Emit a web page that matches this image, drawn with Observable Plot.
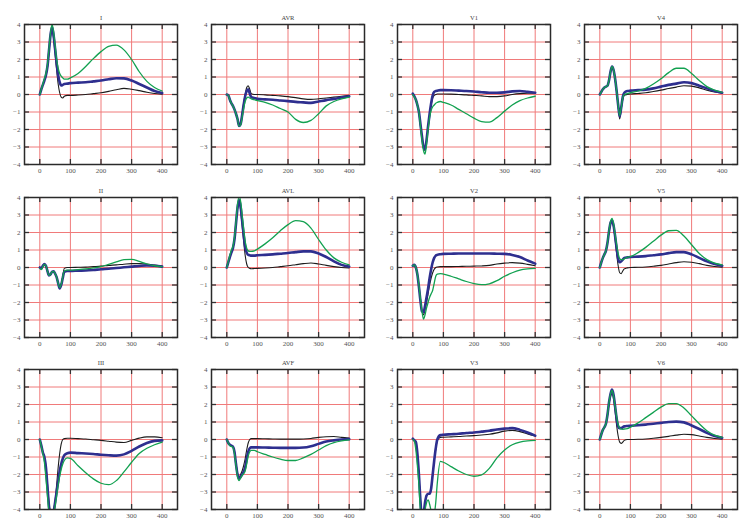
<!DOCTYPE html>
<html><head><meta charset="utf-8">
<script src="https://cdn.jsdelivr.net/npm/d3@7"></script>
<script src="https://cdn.jsdelivr.net/npm/@observablehq/plot@0.6"></script>
<style>
html,body{margin:0;padding:0;background:#fff;}
#chart{position:relative;width:747px;height:523px;overflow:hidden;background:#fff;}
#chart > svg{position:absolute;}
</style></head><body><div id="chart"></div>
<script>
// time axis (ms), shared by all series
const T = [0,5,10,15,20,25,30,35,40,45,50,55,60,65,70,75,80,90,100,125,150,175,200,225,250,275,300,325,350,375,400];
const xTicks = [0,100,200,300,400];
const yTicks = [-4,-3,-2,-1,0,1,2,3,4];
const leadNames = ["I","AVR","V1","V4","II","AVL","V2","V5","III","AVF","V3","V6"];

// Lead I
const I_black = [0,0.3,0.55,0.8,1.05,1.55,2.4,3.3,3.7,3.2,2.3,1.4,0.6,0.1,-0.15,-0.2,-0.1,-0.05,-0.05,-0.03,0,0.05,0.1,0.18,0.27,0.35,0.3,0.22,0.13,0.06,0.02];
const I_blue  = [0,0.3,0.55,0.8,1.1,1.6,2.5,3.4,3.85,3.4,2.6,1.8,1.1,0.7,0.52,0.55,0.6,0.62,0.65,0.68,0.7,0.75,0.8,0.87,0.93,0.92,0.8,0.6,0.4,0.2,0.08];
const I_green = [0,0.3,0.6,0.9,1.2,1.7,2.6,3.5,4.0,3.6,2.8,2.0,1.5,1.2,1.05,0.95,0.88,0.88,0.95,1.2,1.6,2.05,2.45,2.75,2.82,2.55,2.0,1.3,0.75,0.4,0.2];
// Lead AVR
const AVR_black = [0,-0.05,-0.3,-0.5,-0.65,-0.85,-1.1,-1.4,-1.75,-1.65,-1.1,-0.5,0.0,0.4,0.5,0.3,0.05,0.0,0.0,-0.02,-0.05,-0.08,-0.12,-0.18,-0.25,-0.28,-0.25,-0.2,-0.15,-0.1,-0.05];
const AVR_blue  = [0,-0.05,-0.3,-0.5,-0.65,-0.85,-1.1,-1.4,-1.8,-1.7,-1.2,-0.6,-0.1,0.2,0.3,0.05,-0.15,-0.2,-0.25,-0.28,-0.3,-0.34,-0.38,-0.42,-0.45,-0.48,-0.4,-0.32,-0.25,-0.17,-0.1];
const AVR_green = [0,-0.05,-0.3,-0.5,-0.65,-0.85,-1.1,-1.4,-1.8,-1.75,-1.3,-0.8,-0.4,-0.2,-0.15,-0.2,-0.25,-0.3,-0.35,-0.45,-0.6,-0.8,-1.0,-1.42,-1.6,-1.48,-1.1,-0.65,-0.4,-0.25,-0.15];
// Lead V1
const V1_black = [0,-0.1,-0.3,-0.6,-1.0,-1.75,-2.5,-3.05,-3.2,-2.7,-1.9,-1.2,-0.6,-0.2,-0.05,0.0,0.03,0.03,0.03,0.02,0.0,-0.02,-0.05,-0.08,-0.12,-0.12,-0.08,0.0,0.05,0.07,0.07];
const V1_blue  = [0.05,-0.1,-0.3,-0.6,-1.0,-1.7,-2.4,-3.0,-3.15,-2.6,-1.8,-1.1,-0.5,-0.05,0.15,0.2,0.22,0.25,0.25,0.24,0.22,0.2,0.17,0.13,0.1,0.1,0.12,0.18,0.2,0.15,0.1];
const V1_green = [0,-0.15,-0.3,-0.6,-1.0,-1.8,-2.6,-3.2,-3.4,-2.8,-2.0,-1.3,-0.9,-0.7,-0.6,-0.5,-0.45,-0.4,-0.45,-0.6,-0.85,-1.1,-1.35,-1.55,-1.58,-1.32,-0.95,-0.6,-0.35,-0.2,-0.1];
// Lead V4
const V4_black = [0,0.15,0.3,0.4,0.45,0.5,0.8,1.3,1.55,1.35,0.85,0.15,-0.65,-1.4,-0.85,-0.3,-0.05,0.0,0.03,0.06,0.1,0.17,0.25,0.34,0.42,0.5,0.48,0.38,0.25,0.15,0.08];
const V4_blue  = [0,0.15,0.3,0.4,0.45,0.5,0.8,1.3,1.6,1.4,0.9,0.2,-0.6,-1.25,-0.75,-0.15,0.1,0.2,0.22,0.25,0.28,0.35,0.45,0.55,0.62,0.7,0.65,0.5,0.35,0.2,0.1];
const V4_green = [0,0.15,0.3,0.4,0.45,0.5,0.8,1.3,1.6,1.4,0.9,0.2,-0.6,-1.2,-0.75,-0.2,0.0,0.05,0.1,0.2,0.35,0.6,0.9,1.25,1.5,1.5,1.2,0.8,0.45,0.25,0.12];
// Lead II
const II_black = [0,-0.05,0.1,0.2,0.1,-0.2,-0.45,-0.4,-0.25,-0.22,-0.35,-0.55,-0.9,-1.15,-0.95,-0.5,-0.05,0.0,0.0,0.01,0.02,0.05,0.08,0.12,0.15,0.19,0.22,0.22,0.2,0.14,0.08];
const II_blue  = [0,-0.05,0.1,0.2,0.1,-0.2,-0.45,-0.4,-0.25,-0.22,-0.35,-0.55,-0.9,-1.2,-1.0,-0.6,-0.25,-0.2,-0.2,-0.18,-0.17,-0.14,-0.1,-0.07,-0.03,0.01,0.05,0.09,0.12,0.1,0.05];
const II_green = [-0.05,-0.12,0.05,0.18,0.1,-0.2,-0.45,-0.4,-0.25,-0.22,-0.35,-0.55,-0.9,-1.15,-0.95,-0.55,-0.2,-0.15,-0.15,-0.12,-0.08,-0.02,0.05,0.18,0.32,0.45,0.47,0.35,0.2,0.1,0.05];
// Lead AVL
const AVL_black = [0,0.3,0.6,0.85,1.1,1.6,2.5,3.35,3.8,3.3,2.4,1.5,0.7,0.2,0.0,-0.05,-0.07,-0.06,-0.05,-0.03,0.0,0.05,0.1,0.16,0.22,0.26,0.2,0.12,0.05,0.0,-0.02];
const AVL_blue  = [0,0.3,0.6,0.85,1.1,1.6,2.5,3.4,3.85,3.5,2.7,1.9,1.2,0.85,0.72,0.7,0.68,0.68,0.7,0.72,0.75,0.79,0.83,0.88,0.92,0.92,0.8,0.6,0.35,0.15,0.05];
const AVL_green = [0,0.35,0.7,1.0,1.2,1.7,2.6,3.6,4.05,3.8,3.0,2.2,1.5,1.1,0.95,0.92,0.92,0.95,1.05,1.35,1.7,2.1,2.45,2.68,2.62,2.25,1.6,1.0,0.55,0.3,0.15];
// Lead V2
const V2_black = [0.1,0.15,0.0,-0.4,-1.05,-1.9,-2.5,-2.7,-2.4,-2.0,-1.5,-1.0,-0.6,-0.3,-0.1,0.0,0.03,0.05,0.05,0.05,0.06,0.07,0.08,0.09,0.12,0.2,0.25,0.28,0.25,0.18,0.1];
const V2_blue  = [0.1,0.15,0.0,-0.4,-1.1,-1.9,-2.5,-2.55,-2.2,-1.7,-1.2,-0.6,-0.1,0.3,0.55,0.68,0.72,0.76,0.78,0.79,0.8,0.8,0.8,0.8,0.8,0.79,0.78,0.72,0.6,0.4,0.22];
const V2_green = [0.1,0.15,0.0,-0.4,-1.0,-1.8,-2.5,-2.95,-2.7,-2.3,-2.0,-1.7,-1.5,-1.3,-0.9,-0.5,-0.38,-0.35,-0.38,-0.5,-0.65,-0.8,-0.92,-0.98,-0.93,-0.75,-0.5,-0.3,-0.15,-0.08,-0.05];
// Lead V5
const V5_black = [0,0.3,0.55,0.75,0.95,1.4,2.0,2.45,2.6,2.3,1.6,0.8,0.1,-0.3,-0.35,-0.2,-0.08,-0.02,0.0,0.01,0.03,0.07,0.12,0.2,0.28,0.33,0.3,0.22,0.12,0.06,0.02];
const V5_blue  = [0,0.3,0.55,0.75,0.95,1.4,2.05,2.55,2.7,2.4,1.8,1.1,0.5,0.3,0.35,0.45,0.55,0.58,0.6,0.62,0.65,0.7,0.75,0.82,0.88,0.88,0.75,0.55,0.35,0.2,0.1];
const V5_green = [0,0.3,0.55,0.75,0.95,1.4,2.1,2.6,2.8,2.5,1.9,1.3,0.8,0.5,0.45,0.45,0.5,0.58,0.62,0.85,1.15,1.5,1.85,2.1,2.12,1.8,1.3,0.8,0.45,0.25,0.15];
// Lead III
const III_black = [0,-0.35,-0.7,-1.0,-1.5,-2.5,-3.6,-4.2,-4.2,-4.0,-3.5,-2.6,-1.6,-0.8,-0.25,0.0,0.05,0.07,0.07,0.05,0.03,-0.01,-0.05,-0.1,-0.15,-0.17,-0.05,0.08,0.15,0.15,0.1];
const III_blue  = [0,-0.35,-0.75,-1.0,-1.6,-2.7,-3.8,-4.3,-4.4,-4.2,-3.6,-3.0,-2.4,-1.8,-1.4,-1.1,-0.9,-0.78,-0.75,-0.78,-0.8,-0.83,-0.87,-0.9,-0.92,-0.85,-0.65,-0.4,-0.2,-0.08,-0.05];
const III_green = [0,-0.4,-0.8,-1.3,-2.2,-3.2,-4.2,-4.5,-4.6,-4.3,-3.8,-3.2,-2.6,-2.1,-1.7,-1.4,-1.2,-1.05,-1.08,-1.5,-1.9,-2.25,-2.5,-2.58,-2.35,-1.85,-1.3,-0.8,-0.5,-0.3,-0.15];
// Lead AVF
const AVF_black = [0,-0.2,-0.3,-0.35,-0.4,-0.7,-1.35,-1.9,-2.15,-2.0,-1.8,-1.5,-1.1,-0.6,-0.2,0.0,0.05,0.05,0.05,0.04,0.03,0.02,0.02,0.02,0.03,0.06,0.12,0.16,0.17,0.12,0.08];
const AVF_blue  = [0,-0.2,-0.3,-0.35,-0.4,-0.7,-1.4,-2.0,-2.25,-2.15,-2.0,-1.85,-1.6,-1.1,-0.7,-0.5,-0.45,-0.45,-0.45,-0.46,-0.47,-0.48,-0.48,-0.48,-0.46,-0.38,-0.25,-0.12,-0.05,0.0,0.02];
const AVF_green = [0,-0.2,-0.35,-0.4,-0.45,-0.8,-1.5,-2.1,-2.35,-2.2,-2.05,-1.95,-1.8,-1.4,-0.95,-0.7,-0.62,-0.62,-0.7,-0.85,-1.0,-1.12,-1.2,-1.2,-1.05,-0.85,-0.6,-0.35,-0.18,-0.08,-0.02];
// Lead V3
const V3_black = [0.05,-0.05,-0.15,-0.8,-2.0,-3.5,-4.5,-4.3,-3.6,-3.2,-3.1,-3.1,-2.8,-2.0,-1.2,-0.55,-0.05,0.12,0.13,0.15,0.17,0.2,0.22,0.26,0.3,0.38,0.48,0.52,0.45,0.32,0.2];
const V3_blue  = [0.05,-0.05,-0.15,-0.8,-2.0,-3.5,-4.5,-4.3,-3.6,-3.2,-3.1,-3.1,-2.8,-2.0,-1.2,-0.5,0.0,0.25,0.27,0.3,0.33,0.37,0.4,0.45,0.5,0.57,0.62,0.65,0.55,0.4,0.22];
const V3_green = [0,-0.1,-0.6,-1.5,-2.6,-4.1,-4.6,-4.4,-4.0,-3.6,-3.45,-3.7,-4.1,-4.5,-4.3,-3.6,-2.5,-1.25,-1.3,-1.55,-1.8,-2.0,-2.1,-2.02,-1.65,-1.05,-0.6,-0.3,-0.15,-0.08,-0.05];
// Lead V6
const V6_black = [0,0.3,0.55,0.7,0.9,1.35,2.0,2.45,2.6,2.3,1.6,0.8,0.2,-0.15,-0.22,-0.15,-0.05,0.0,0.0,0.01,0.03,0.07,0.12,0.18,0.25,0.3,0.28,0.2,0.12,0.06,0.02];
const V6_blue  = [0,0.3,0.55,0.7,0.9,1.4,2.1,2.6,2.85,2.55,1.9,1.2,0.75,0.65,0.65,0.7,0.75,0.77,0.78,0.81,0.85,0.9,0.95,1.0,1.02,0.98,0.8,0.6,0.38,0.2,0.1];
const V6_green = [0,0.3,0.55,0.7,0.9,1.4,2.1,2.6,2.8,2.5,1.9,1.3,0.85,0.65,0.6,0.58,0.6,0.62,0.7,0.95,1.25,1.55,1.85,2.05,2.05,1.8,1.35,0.9,0.5,0.25,0.12];

const leadSeries = {
  I: [I_black, I_blue, I_green], AVR: [AVR_black, AVR_blue, AVR_green],
  V1: [V1_black, V1_blue, V1_green], V4: [V4_black, V4_blue, V4_green],
  II: [II_black, II_blue, II_green], AVL: [AVL_black, AVL_blue, AVL_green],
  V2: [V2_black, V2_blue, V2_green], V5: [V5_black, V5_blue, V5_green],
  III: [III_black, III_blue, III_green], AVF: [AVF_black, AVF_blue, AVF_green],
  V3: [V3_black, V3_blue, V3_green], V6: [V6_black, V6_blue, V6_green]
};
const seriesStyles = [
  {stroke: "#1c1c1c", strokeWidth: 1.1},
  {stroke: "#2e2f8f", strokeWidth: 2.6},
  {stroke: "#12a150", strokeWidth: 1.3}
];

const chart = document.getElementById("chart");
const W = 187, H = 190, ML = 24, MR = 10, MT = 24, MB = 26;
const frameW = W - ML - MR, frameH = H - MT - MB, tickLen = 5;

leadNames.forEach((name, i) => {
  const col = i % 4, row = Math.floor(i / 4);
  const lines = leadSeries[name].map((arr, k) =>
    Plot.line(T.map((t, j) => ({t, v: arr[j]})), {
      x: "t", y: "v", curve: "monotone-x", clip: true, ...seriesStyles[k]
    }));
  const svg = Plot.plot({
    width: W, height: H,
    marginLeft: ML, marginRight: MR, marginTop: MT, marginBottom: MB,
    style: {background: "transparent", fontFamily: "'Liberation Serif', 'DejaVu Serif', serif", fontSize: "7px", color: "#555"},
    x: {domain: [-50, 450], ticks: xTicks, tickSize: 0, tickPadding: 4, label: null},
    y: {domain: [-4, 4], ticks: yTicks, tickSize: 0, tickPadding: 4, label: null},
    marks: [
      Plot.gridX(xTicks, {stroke: "#f07a7a", strokeOpacity: 1, strokeWidth: 1}),
      Plot.gridY(yTicks, {stroke: "#f07a7a", strokeOpacity: 1, strokeWidth: 1}),
      Plot.tickY(yTicks, {y: d => d, stroke: "#333", strokeWidth: 1.3, insetRight: frameW - tickLen}),
      Plot.tickY(yTicks, {y: d => d, stroke: "#333", strokeWidth: 1.3, insetLeft: frameW - tickLen}),
      Plot.tickX(xTicks, {x: d => d, stroke: "#333", strokeWidth: 1.3, insetBottom: frameH - tickLen}),
      Plot.tickX(xTicks, {x: d => d, stroke: "#333", strokeWidth: 1.3, insetTop: frameH - tickLen}),
      ...lines,
      Plot.frame({stroke: "#2a2a2a", strokeWidth: 1.5}),
      Plot.text([name], {frameAnchor: "top", dy: -9, fontSize: 6.5, fill: "#444"})
    ]
  });
  svg.style.position = "absolute";
  svg.style.left = Math.round(col * 186.67) + "px";
  svg.style.top = Math.round(row * 172.5) + "px";
  chart.appendChild(svg);
});
</script>
</body></html>
